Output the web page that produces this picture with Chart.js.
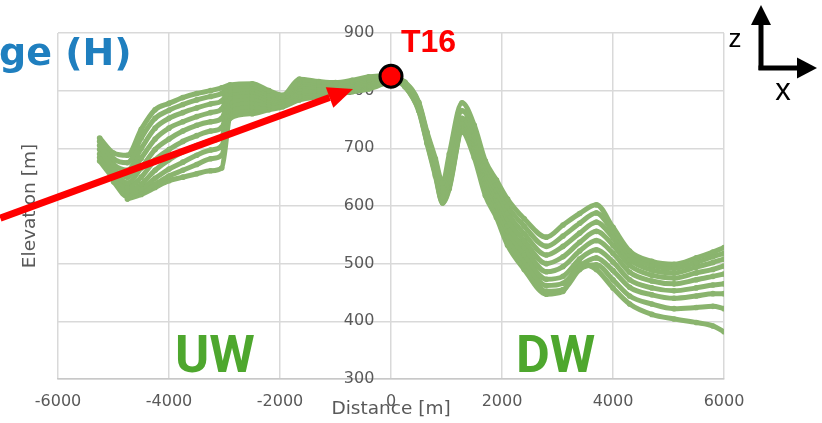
<!DOCTYPE html>
<html>
<head>
<meta charset="utf-8">
<script src="https://cdn.jsdelivr.net/npm/chart.js@4.4.1/dist/chart.umd.min.js"></script>
<style>
    html, body { margin: 0; padding: 0; background: #ffffff; }
    #wrap { width: 822px; height: 423px; position: relative; }
</style>
</head>
<body>
<div id="wrap"><canvas id="graph"></canvas></div>
<script>
// tick labels
const xTicks = [-6000, -4000, -2000, 0, 2000, 4000, 6000]
const yTicks = [300, 400, 500, 600, 700, 800, 900]

// upstream side (UW), distance in m
const uwDistance = [-5250, -5000, -4750, -4500, -4250, -4000, -3750, -3500, -3250, -3050,
    -2900, -2500, -2200, -1950, -1650, -1300, -1000, -700, -400, -150, 0]

// elevation in m, one row per profile line
const uwProfiles = [
    [718, 692, 688, 733, 767, 778, 788, 795, 800, 805, 810, 812, 800, 792, 820, 816, 814, 818, 824, 826, 827],
    [712, 682, 675, 718, 752, 766, 776, 784, 790, 795, 806, 808, 796, 789, 816, 813, 811, 815, 822, 825, 826],
    [705, 672, 662, 700, 735, 752, 762, 770, 777, 782, 800, 803, 792, 786, 812, 810, 808, 812, 819, 823, 826],
    [698, 664, 650, 683, 716, 735, 746, 755, 762, 768, 795, 798, 788, 783, 808, 806, 805, 810, 816, 822, 825],
    [690, 658, 640, 666, 698, 716, 730, 740, 746, 752, 788, 792, 784, 780, 803, 803, 802, 807, 813, 820, 825],
    [684, 652, 632, 650, 680, 698, 712, 722, 730, 736, 780, 786, 780, 778, 798, 800, 800, 805, 811, 818, 824],
    [678, 648, 625, 638, 662, 680, 694, 705, 713, 720, 773, 779, 776, 776, 794, 797, 798, 803, 809, 817, 824],
    [null, 645, 620, 630, 648, 664, 676, 688, 697, 704, 767, 772, 772, 774, 790, 794, 796, 801, 807, 815, 823],
    [null, 642, 616, 625, 638, 652, 662, 672, 682, 688, 760, 766, 769, 773, 787, 792, 795, 800, 805, 814, 823],
    [null, null, 612, 620, 632, 644, 650, 656, 661, 666, 752, 760, 767, 772, 784, 790, 794, 798, 803, 812, 822],
]

// downstream side (DW)
const dwDistance = [0, 250, 500, 650, 800, 930, 1050, 1280, 1500, 1700, 1900, 2100,
    2400, 2800, 3100, 3400, 3700, 4000, 4300, 4700, 5100, 5500, 5800, 6000]

const dwProfiles = [
    [825, 815, 780, 728, 682, 640, 690, 779, 740, 678, 645, 612, 578, 546, 567, 587, 602, 563, 522, 504, 499, 510, 520, 528],
    [825, 814, 778, 725, 678, 632, 672, 765, 730, 670, 636, 600, 565, 530, 548, 570, 588, 555, 515, 497, 492, 502, 512, 518],
    [824, 813, 776, 722, 674, 625, 660, 752, 722, 662, 627, 588, 552, 515, 530, 553, 572, 545, 507, 489, 484, 494, 502, 508],
    [824, 812, 774, 720, 670, 620, 650, 745, 715, 655, 618, 577, 540, 500, 512, 537, 556, 532, 497, 480, 475, 484, 490, 496],
    [824, 811, 772, 717, 666, 615, 645, 740, 708, 648, 610, 566, 528, 486, 495, 522, 540, 518, 485, 470, 465, 472, 478, 482],
    [823, 810, 770, 714, 662, 611, 640, 735, 702, 640, 601, 556, 516, 473, 478, 508, 524, 503, 472, 458, 453, 458, 463, 465],
    [823, 809, 768, 712, 658, 608, 636, 732, 696, 632, 593, 546, 505, 462, 466, 496, 510, 488, 459, 446, 440, 444, 448, 448],
    [823, 808, 766, 710, 655, 606, 633, 730, 690, 625, 586, 538, 496, 452, 455, 490, 498, 472, 444, 430, 422, 424, 426, 422],
    [822, 807, 765, 708, 652, 605, 630, 728, 684, 618, 580, 532, 490, 447, 452, 500, 490, 458, 430, 412, 404, 398, 392, 382],
]

// T16 marker and the red arrow (data coordinates)
const t16Point = [0, 825]
const arrowStart = [-7040, 579]
const arrowEnd = [-684, 803]

const green = "#8ab46e"

const toPoints = (xs, ys) => {
    const result = []
    xs.forEach((x, i) => {
        if (ys[i] !== null) result.push({ x, y: ys[i] })
    })
    return result
}

const profileDataset = (xs, ys) => ({
    data: toPoints(xs, ys),
    showLine: true,
    borderColor: green,
    borderWidth: 5,
    backgroundColor: green,
    pointRadius: 2.8,
    pointBorderWidth: 0,
    cubicInterpolationMode: "monotone",
})

const datasets = [
    {
        data: [{ x: t16Point[0], y: t16Point[1] }],
        pointRadius: 11,
        pointBackgroundColor: "#ff0000",
        pointBorderColor: "#000000",
        pointBorderWidth: 3,
        clip: false,
    },
    ...uwProfiles.map((ys) => profileDataset(uwDistance, ys)),
    ...dwProfiles.map((ys) => profileDataset(dwDistance, ys)),
]

const drawArrow = (ctx, x0, y0, x1, y1, width, headLen, headHalf) => {
    const ang = Math.atan2(y1 - y0, x1 - x0)
    const bx = x1 - headLen * Math.cos(ang)
    const by = y1 - headLen * Math.sin(ang)
    ctx.beginPath()
    ctx.moveTo(x0, y0)
    ctx.lineTo(bx, by)
    ctx.lineWidth = width
    ctx.stroke()
    ctx.beginPath()
    ctx.moveTo(x1, y1)
    ctx.lineTo(bx + headHalf * Math.sin(ang), by - headHalf * Math.cos(ang))
    ctx.lineTo(bx - headHalf * Math.sin(ang), by + headHalf * Math.cos(ang))
    ctx.closePath()
    ctx.fill()
}

const annotations = {
    id: "annotations",
    afterDatasetsDraw(chart) {
        const { ctx, scales } = chart
        ctx.save()
        ctx.strokeStyle = "#ff0000"
        ctx.fillStyle = "#ff0000"
        drawArrow(
            ctx,
            scales.x.getPixelForValue(arrowStart[0]),
            scales.y.getPixelForValue(arrowStart[1]),
            scales.x.getPixelForValue(arrowEnd[0]),
            scales.y.getPixelForValue(arrowEnd[1]),
            7, 25, 11
        )
        ctx.restore()
    },
    afterDraw(chart) {
        const { ctx } = chart
        ctx.save()
        ctx.textBaseline = "alphabetic"
        ctx.textAlign = "left"

        ctx.fillStyle = "#1f7fbf"
        ctx.font = "bold 38px 'DejaVu Sans'"
        ctx.fillText("ge (H)", -1, 65)

        ctx.fillStyle = "#ff0000"
        ctx.font = "bold 32px 'Liberation Sans'"
        ctx.fillText("T16", 401, 52)

        ctx.fillStyle = "#4ea72e"
        ctx.font = "bold 52px Roboto"
        ctx.fillText("UW", 175, 372)
        ctx.fillText("DW", 516, 372)

        // axis icon
        ctx.fillStyle = "#000000"
        ctx.strokeStyle = "#000000"
        drawArrow(ctx, 761, 70, 761, 5, 5, 20, 10)
        drawArrow(ctx, 758.5, 68, 817, 68, 5, 20, 10.5)
        ctx.font = "26px 'Liberation Sans'"
        ctx.textAlign = "center"
        ctx.fillText("z", 735, 47)
        ctx.font = "31px 'Liberation Sans'"
        ctx.fillText("x", 783, 100)
        ctx.restore()
    },
}

const config = {
    type: "scatter",
    data: { datasets },
    options: {
        responsive: true,
        maintainAspectRatio: false,
        animation: false,
        layout: {
            padding: { top: 33, right: 98, left: 0, bottom: 0 },
        },
        plugins: {
            legend: { display: false },
            tooltip: { enabled: false },
        },
        scales: {
            x: {
                type: "linear",
                min: -6000,
                max: 6000,
                afterBuildTicks: (scale) => {
                    scale.ticks = xTicks.map((v) => ({ value: v }))
                },
                afterFit: (scale) => {
                    scale.height = 44
                },
                ticks: {
                    padding: 13,
                    color: "#595959",
                    font: { family: "'DejaVu Sans'", size: 16 },
                    callback: (v) => String(v),
                },
                grid: {
                    color: "#d9d9d9",
                    lineWidth: 1.5,
                    drawTicks: false,
                },
                border: { display: true, color: "#c8c8c8", width: 1.5 },
                title: {
                    display: true,
                    text: "Distance [m]",
                    color: "#595959",
                    font: { family: "'DejaVu Sans'", size: 18.5 },
                    padding: { top: 0, bottom: 3 },
                },
            },
            y: {
                type: "linear",
                // labels sit just left of the x = 0 grid line
                position: { x: -300 },
                min: 300,
                max: 900,
                afterBuildTicks: (scale) => {
                    scale.ticks = yTicks.map((v) => ({ value: v }))
                },
                ticks: {
                    color: "#595959",
                    font: { family: "'DejaVu Sans'", size: 16 },
                    callback: (v) => String(v),
                },
                grid: {
                    color: "#d9d9d9",
                    lineWidth: 1.5,
                    drawTicks: false,
                },
                border: { display: false },
            },
            yTitle: {
                type: "linear",
                position: "left",
                afterFit: (scale) => {
                    scale.width = 58
                },
                ticks: { display: false },
                grid: { display: false },
                border: { display: false },
                title: {
                    display: true,
                    text: "Elevation [m]",
                    color: "#595959",
                    font: { family: "'DejaVu Sans'", size: 18.5 },
                    padding: { top: 19, bottom: 0 },
                },
            },
        },
    },
    plugins: [annotations],
}

const chart = new Chart(document.getElementById("graph"), config)
</script>
</body>
</html>
